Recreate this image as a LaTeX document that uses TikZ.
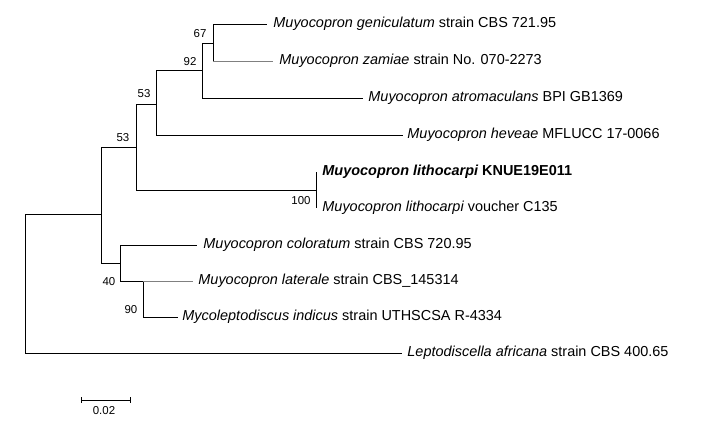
\documentclass[tikz,border=0pt]{standalone}
\usepackage{fontspec}
\setmainfont{Liberation Sans}
\begin{document}
\begin{tikzpicture}[x=1bp,y=-1bp,line width=0.9bp,
  taxon/.style={anchor=west,font=\fontsize{14.5}{16}\selectfont\itshape,inner sep=0pt},
  boot/.style={font=\fontsize{11.5}{13}\selectfont,inner sep=0pt}]
  \useasboundingbox (0,0) rectangle (701,427);
  % internal nodes
  \coordinate (R) at (25,281);
  \coordinate (A) at (101,214);
  \coordinate (B) at (136,147);
  \coordinate (C) at (156,104);
  \coordinate (D) at (202,70);
  \coordinate (E) at (213,43);
  \coordinate (F) at (316,190);
  \coordinate (G) at (120,263);
  \coordinate (H) at (143,299);

  % leaves
  \node[taxon] (gen) at (273,24) {Muyocopron geniculatum\upshape{} strain CBS 721.95};
  \node[taxon] (zam) at (279,61) {Muyocopron zamiae\upshape{} strain No. 070-2273};
  \node[taxon] (atr) at (368,98) {Muyocopron atromaculans\upshape{} BPI GB1369};
  \node[taxon] (hev) at (407,135) {Muyocopron heveae\upshape{} MFLUCC 17-0066};
  \node[taxon,font=\fontsize{14.5}{16}\selectfont\bfseries\itshape] (knu) at (322,172) {Muyocopron lithocarpi\upshape{} KNUE19E011};
  \node[taxon] (vou) at (322,208) {Muyocopron lithocarpi\upshape{} voucher C135};
  \node[taxon] (col) at (203,245) {Muyocopron coloratum\upshape{} strain CBS 720.95};
  \node[taxon] (lat) at (198,281) {Muyocopron laterale\upshape{} strain CBS\_145314};
  \node[taxon] (ind) at (182,317) {Mycoleptodiscus indicus\upshape{} strain UTHSCSA R-4334};
  \node[taxon] (lep) at (407,353) {Leptodiscella africana\upshape{} strain CBS 400.65};

  % branches
  \draw (R |- A) -- (A) (A |- B) -- (B) (B |- C) -- (C) (C |- D) -- (D) (D |- E) -- (E);
  \draw (R |- lep) -- ([xshift=-5bp]lep.west) (R |- A) -- (R |- lep);
  \draw (A |- B) -- (A |- G) -- (G);
  \draw (B |- C) -- (B |- F) -- (F);
  \draw (C |- D) -- (C |- hev) -- ([xshift=-4bp]hev.west);
  \draw (D |- E) -- (D |- atr) -- ([xshift=-5bp]atr.west);
  \draw (E |- gen) -- (E |- zam);
  \draw (E |- gen) -- ([xshift=-6bp]gen.west);
  \draw[gray] (E |- zam) -- ([xshift=-6bp]zam.west);
  \draw (F |- knu) -- (F |- vou);
  \draw (G |- col) -- (G |- lat) -- (H |- lat);
  \draw (G |- col) -- ([xshift=-6bp]col.west);
  \draw (H |- lat) -- (H |- ind);
  \draw[gray] (H |- lat) -- ([xshift=-5bp]lat.west);
  \draw (H |- ind) -- ([xshift=-4bp]ind.west);

  % bootstrap values
  \node[boot] at (200,34) {67};
  \node[boot] at (190,62) {92};
  \node[boot] at (144,94) {53};
  \node[boot] at (123,138) {53};
  \node[boot] at (301,201) {100};
  \node[boot] at (109,282) {40};
  \node[boot] at (131,310) {90};

  % scale bar
  \coordinate (s1) at (81,400);
  \coordinate (s2) at (130,400);
  \draw[line width=0.7bp] (s1) -- (s2) (s1) ++(0,-3) -- ++(0,6) (s2) ++(0,-3) -- ++(0,6);
  \node[boot] at (104,411) {0.02};
\end{tikzpicture}
\end{document}
